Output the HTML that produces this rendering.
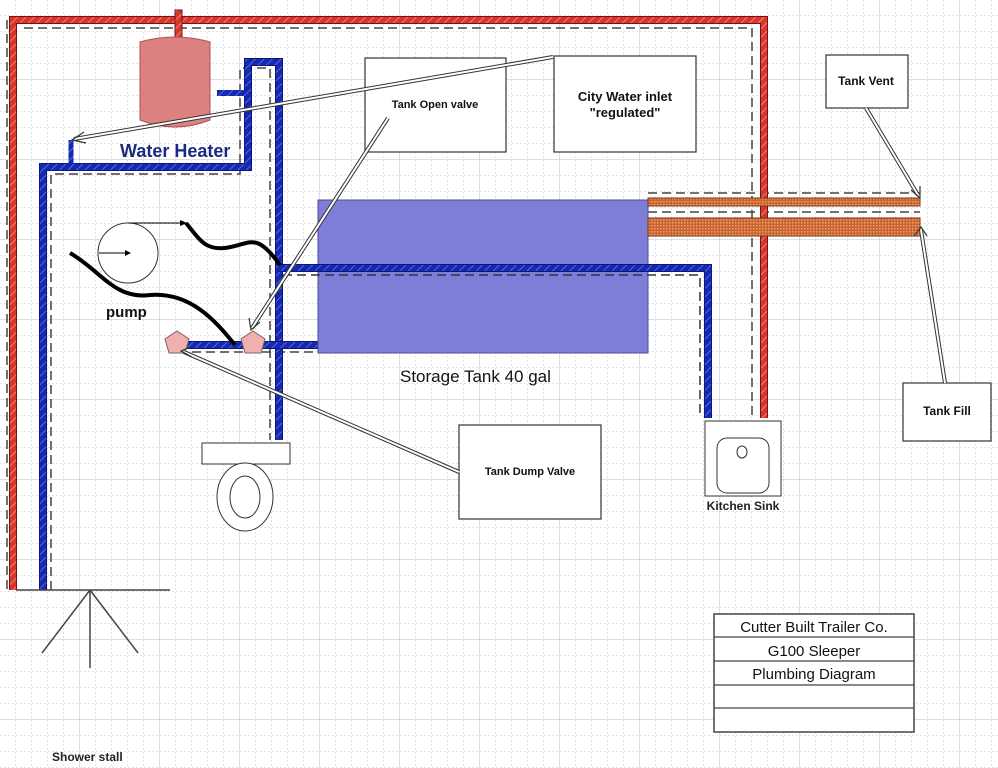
<!DOCTYPE html>
<html><head><meta charset="utf-8"><style>
html,body{margin:0;padding:0;background:#fff;}
svg{display:block;font-family:"Liberation Sans",Arial,sans-serif;}
</style></head><body>
<svg width="998" height="768" viewBox="0 0 998 768" xmlns="http://www.w3.org/2000/svg">
<defs>
<pattern id="minor" width="16" height="16" patternUnits="userSpaceOnUse">
<path d="M16 0V16M0 16H16" stroke="#c8c8c8" stroke-width="1" stroke-dasharray="2,2" fill="none"/>
</pattern>
<pattern id="major" width="80" height="80" patternUnits="userSpaceOnUse">
<path d="M80 0V80M0 80H80" stroke="#bcbcbc" stroke-width="1" fill="none"/>
</pattern>
<pattern id="hatchR" width="6" height="6" patternUnits="userSpaceOnUse" patternTransform="rotate(45)">
<rect width="6" height="6" fill="#d8362a"/><line x1="0" y1="0" x2="0" y2="6" stroke="#f29a8a" stroke-width="1.5"/>
</pattern>
<pattern id="hatchB" width="6" height="6" patternUnits="userSpaceOnUse" patternTransform="rotate(45)">
<rect width="6" height="6" fill="#1428b0"/><line x1="0" y1="0" x2="0" y2="6" stroke="#6c7ee0" stroke-width="1.5"/>
</pattern>
<pattern id="chk" width="3" height="3" patternUnits="userSpaceOnUse">
<rect width="3" height="3" fill="#c8652e"/><rect width="1.5" height="1.5" fill="#f0a070"/>
</pattern>
</defs>
<rect width="998" height="768" fill="#fff"/>
<rect width="998" height="768" fill="url(#minor)"/>
<rect width="998" height="768" fill="url(#major)"/>

<g stroke="#444" stroke-width="1.5" stroke-dasharray="9,5" fill="none">
<path d="M7 20V590"/>
<path d="M24 28H752V420"/>
<path d="M51 590V174H240V68H270V440"/>
<path d="M192 352H318"/>
<path d="M648 193H920"/>
<path d="M648 212H920"/>
</g>

<path d="M13 590V20H764V418" stroke="#7a1010" stroke-width="8" fill="none"/>
<path d="M13 590V20H764V418" stroke="url(#hatchR)" stroke-width="6" fill="none"/>
<rect x="175" y="10" width="7" height="28" fill="url(#hatchR)" stroke="#7a1010"/>

<path d="M140 42 Q175 32 210 42 V120 Q175 134 140 120 Z" fill="#dc8080" stroke="#b05050"/>

<g fill="none">
<path d="M43 590V167H248V62H279V440" stroke="#0a1680" stroke-width="8"/>
<path d="M43 590V167H248V62H279V440" stroke="url(#hatchB)" stroke-width="6"/>
<path d="M186 345H318" stroke="#0a1680" stroke-width="8"/>
<path d="M186 345H318" stroke="url(#hatchB)" stroke-width="6"/>
<path d="M217 93H245" stroke="url(#hatchB)" stroke-width="6"/>
<path d="M71 140V165" stroke="url(#hatchB)" stroke-width="5"/>
</g>

<rect x="318" y="200" width="330" height="153" fill="#7e7ed8" stroke="#4a4a9a"/>

<g fill="none">
<path d="M279 268H708V418" stroke="#0a1680" stroke-width="8"/>
<path d="M279 268H708V418" stroke="url(#hatchB)" stroke-width="6"/>
<path d="M283 275H700V418" stroke="#333" stroke-width="1.5" stroke-dasharray="9,5"/>
</g>

<rect x="648" y="198" width="272" height="8" fill="url(#chk)" stroke="#7a3010"/>
<rect x="648" y="218" width="272" height="18" fill="url(#chk)" stroke="#7a3010"/>

<circle cx="128" cy="253" r="30" fill="#fff" stroke="#333"/>
<line x1="99" y1="253" x2="125" y2="253" stroke="#000"/><path d="M125 250L131 253L125 256Z"/>
<line x1="128" y1="223" x2="182" y2="223" stroke="#000"/><path d="M180 220L187 223L180 226Z"/>
<path d="M186 223 C200 240 205 250 225 248 C250 245 255 230 280 265" stroke="#000" stroke-width="4" fill="none"/>
<path d="M70 253 C100 270 115 300 150 295 C190 292 215 320 235 345" stroke="#000" stroke-width="4" fill="none"/>
<text x="106" y="317" font-size="15" font-weight="bold" fill="#111">pump</text>

<polygon points="177,331 189,339 185,353 169,353 165,339" fill="#f0b0b0" stroke="#806060"/>
<polygon points="253,331 265,339 261,353 245,353 241,339" fill="#f0b0b0" stroke="#806060"/>

<text x="120" y="157" font-size="18" font-weight="bold" fill="#1a2a80">Water Heater</text>
<text x="400" y="382" font-size="17" fill="#111">Storage Tank 40 gal</text>

<g fill="#fff" stroke="#333" stroke-width="1.2">
<rect x="365" y="58" width="141" height="94"/>
<rect x="554" y="56" width="142" height="96"/>
<rect x="826" y="55" width="82" height="53"/>
<rect x="903" y="383" width="88" height="58"/>
<rect x="459" y="425" width="142" height="94"/>
</g>
<g font-weight="bold" fill="#111" text-anchor="middle">
<text x="435" y="108" font-size="11">Tank Open valve</text>
<text x="625" y="101" font-size="13">City Water inlet</text>
<text x="625" y="117" font-size="13">"regulated"</text>
<text x="866" y="85" font-size="12">Tank Vent</text>
<text x="947" y="415" font-size="12">Tank Fill</text>
<text x="530" y="475" font-size="11">Tank Dump Valve</text>
</g>

<g fill="none" stroke-linecap="butt">
<g stroke="#333" stroke-width="4">
<line x1="553" y1="57" x2="74" y2="139"/>
<line x1="388" y1="118" x2="252" y2="328"/>
<line x1="459" y1="472" x2="184" y2="352"/>
<line x1="866" y1="108" x2="918" y2="195"/>
<line x1="945" y1="383" x2="921" y2="230"/>
</g>
<g stroke="#fff" stroke-width="2">
<line x1="553" y1="57" x2="74" y2="139"/>
<line x1="388" y1="118" x2="252" y2="328"/>
<line x1="459" y1="472" x2="184" y2="352"/>
<line x1="866" y1="108" x2="918" y2="195"/>
<line x1="945" y1="383" x2="921" y2="230"/>
</g>
<g stroke="#333" stroke-width="1.2">
<path d="M84 132L72 140L86 143"/>
<path d="M249 318L251 330L260 322"/>
<path d="M190 347L181 351L192 357"/>
<path d="M911 190L920 198L920 186"/>
<path d="M914 236L921 227L927 236"/>
</g>
</g>

<rect x="202" y="443" width="88" height="21" fill="#fff" stroke="#333"/>
<ellipse cx="245" cy="497" rx="28" ry="34" fill="#fff" stroke="#333"/>
<ellipse cx="245" cy="497" rx="15" ry="21" fill="#fff" stroke="#333"/>

<rect x="705" y="421" width="76" height="75" fill="#fff" stroke="#333"/>
<rect x="717" y="438" width="52" height="55" rx="10" fill="#fff" stroke="#333"/>
<ellipse cx="742" cy="452" rx="5" ry="6" fill="#fff" stroke="#333"/>
<text x="743" y="510" font-size="12" font-weight="bold" text-anchor="middle" fill="#222">Kitchen Sink</text>

<g stroke="#444" stroke-width="1.5">
<line x1="16" y1="590" x2="170" y2="590"/>
<line x1="90" y1="590" x2="42" y2="653"/>
<line x1="90" y1="590" x2="90" y2="668"/>
<line x1="90" y1="590" x2="138" y2="653"/>
</g>
<text x="52" y="761" font-size="12" font-weight="bold" fill="#222">Shower stall</text>

<rect x="714" y="614" width="200" height="118" fill="#fff" stroke="#444" stroke-width="1.5"/>
<g stroke="#444" stroke-width="1.2">
<line x1="714" y1="637" x2="914" y2="637"/>
<line x1="714" y1="661" x2="914" y2="661"/>
<line x1="714" y1="685" x2="914" y2="685"/>
<line x1="714" y1="708" x2="914" y2="708"/>
</g>
<g font-size="15" text-anchor="middle" fill="#111">
<text x="814" y="632">Cutter Built Trailer Co.</text>
<text x="814" y="656">G100 Sleeper</text>
<text x="814" y="679">Plumbing Diagram</text>
</g>
</svg>
</body></html>
